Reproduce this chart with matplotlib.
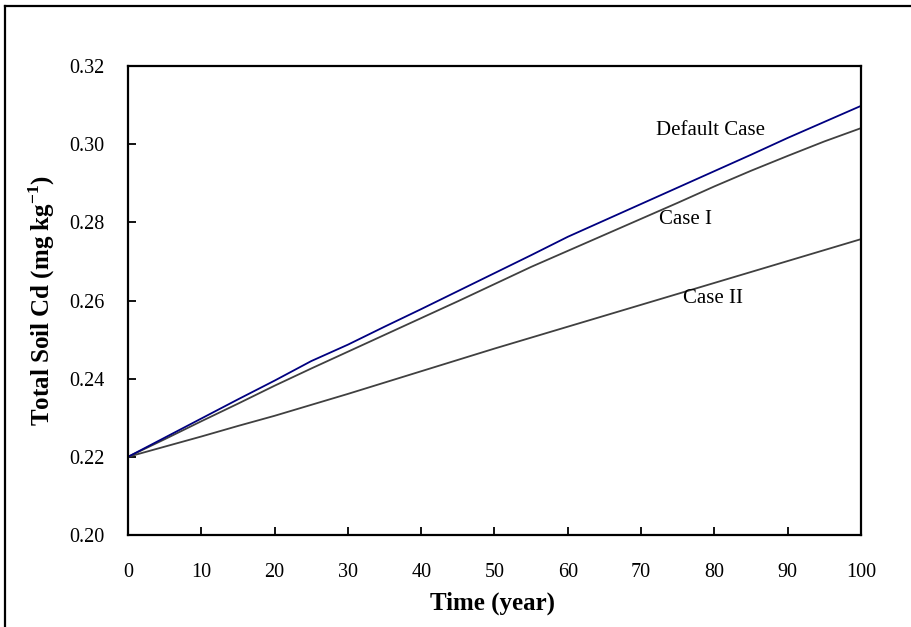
import matplotlib
matplotlib.use("Agg")
import matplotlib.pyplot as plt
from matplotlib.lines import Line2D

plt.rcParams['font.family'] = ['Liberation Serif', 'DejaVu Serif']
plt.rcParams['mathtext.fontset'] = 'custom'
plt.rcParams['mathtext.rm'] = 'Liberation Serif'
plt.rcParams['mathtext.bf'] = 'Liberation Serif:bold'

years = [0, 5, 10, 15, 20, 25, 30, 35, 40, 45, 50, 55, 60, 65, 70, 75, 80, 85, 90, 95, 100]
default_case = [0.2200, 0.2249, 0.2298, 0.2347, 0.2395, 0.2445, 0.2487, 0.2533, 0.2578, 0.2624,
                0.2670, 0.2716, 0.2763, 0.2805, 0.2847, 0.2889, 0.2931, 0.2973, 0.3016, 0.3057, 0.3098]
case_1 = [0.2200, 0.2245, 0.2291, 0.2336, 0.2382, 0.2426, 0.2469, 0.2512, 0.2555, 0.2598,
          0.2642, 0.2686, 0.2727, 0.2768, 0.2809, 0.2850, 0.2892, 0.2932, 0.2970, 0.3007, 0.3041]
case_2 = [0.2200, 0.2226, 0.2252, 0.2279, 0.2305, 0.2333, 0.2361, 0.2390, 0.2419, 0.2448,
          0.2477, 0.2505, 0.2533, 0.2561, 0.2589, 0.2617, 0.2645, 0.2673, 0.2701, 0.2729, 0.2757]
x_ticks = [0, 10, 20, 30, 40, 50, 60, 70, 80, 90, 100]
y_ticks = [0.20, 0.22, 0.24, 0.26, 0.28, 0.30, 0.32]

W, H = 912, 627
fig = plt.figure(figsize=(W / 100, H / 100), dpi=100)

# outer frame (top and left visible)
fig.add_artist(Line2D([5 / W, 5 / W], [0, 1 - 6 / H], transform=fig.transFigure, color='black', lw=1.6))
fig.add_artist(Line2D([5 / W, 1], [1 - 6 / H, 1 - 6 / H], transform=fig.transFigure, color='black', lw=1.6))

ax = fig.add_axes([128 / W, (H - 535) / H, (861 - 128) / W, (535 - 66) / H])

ax.plot(years, case_2, color='#404040', lw=1.3)
ax.plot(years, case_1, color='#404040', lw=1.3)
ax.plot(years, default_case, color='#000080', lw=1.3)

ax.set_xlim(0, 100)
ax.set_ylim(0.20, 0.32)
ax.set_xticks(x_ticks)
ax.set_xticklabels([str(v) for v in x_ticks])
ax.set_yticks(y_ticks)
ax.set_yticklabels([f"{v:.2f}" for v in y_ticks])

for s in ax.spines.values():
    s.set_linewidth(1.6)
ax.tick_params(direction='in', length=6, width=1.3, labelsize=14.5)
ax.tick_params(axis='y', pad=17)
ax.tick_params(axis='x', pad=20)

ax.set_xlabel('Time (year)', fontsize=18, fontweight='bold')
ax.set_ylabel(r'Total Soil Cd (mg kg$^{\mathbf{-1}}$)', fontsize=18, fontweight='bold')
ax.xaxis.set_label_coords(0.497, -0.1215)
ax.yaxis.set_label_coords(-0.097, 0.501)

ax.text(72, 0.3036, 'Default Case', fontsize=15, ha='left', va='center')
ax.text(72.4, 0.2806, 'Case I', fontsize=15, ha='left', va='center')
ax.text(75.7, 0.2604, 'Case II', fontsize=15, ha='left', va='center')

fig.savefig('out.png', dpi=100)
